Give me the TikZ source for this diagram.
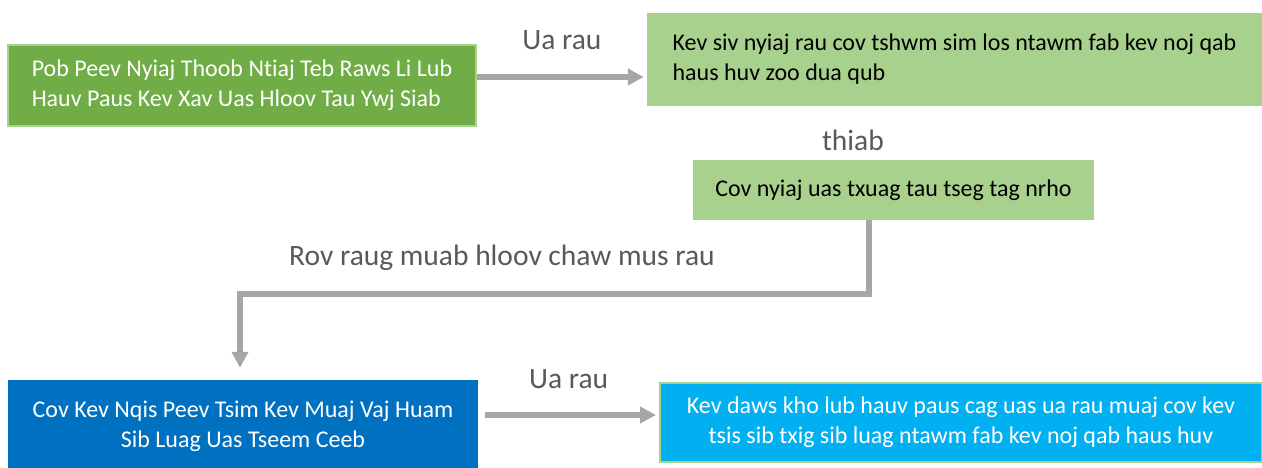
\documentclass[tikz,border=0pt]{standalone}
\usepackage{fontspec}
\setmainfont{Carlito}[RawFeature={-liga;-clig;-dlig;-calt}]
\usepackage{xcolor}
\usepackage{tikz}
\usetikzlibrary{arrows.meta,positioning}
\definecolor{boxdark}{HTML}{70AD47}
\definecolor{boxlight}{HTML}{A9D18E}
\definecolor{boxblue}{HTML}{0070C0}
\definecolor{boxcyan}{HTML}{00B0F0}
\definecolor{flowgray}{HTML}{A6A6A6}
\definecolor{lblgray}{HTML}{595959}

\begin{document}
\begin{tikzpicture}[x=1pt, y=-1pt,
  box/.style={rectangle, fill=#1, draw=none, inner sep=0pt, align=center,
              font=\fontsize{24}{30}\selectfont},
  flow/.style={-{Triangle[length=16pt,width=16pt]}, line width=5.5pt, draw=flowgray},
  lbl/.style={font=\fontsize{29.5}{35}\selectfont, text=lblgray},
]
\useasboundingbox (0,0) rectangle (1262,467);

\node[box=boxdark, draw=boxlight, line width=2pt, text=white, align=left,
      minimum width=468pt, minimum height=81pt] (inv) at (242,85)
  {Pob Peev Nyiaj Thoob Ntiaj Teb Raws Li Lub\\Hauv Paus Kev Xav Uas Hloov Tau Ywj Siab};
\node[box=boxlight, align=left, minimum width=615pt, minimum height=93pt] (use) at (954.5,59.5)
  {Kev siv nyiaj rau cov tshwm sim los ntawm fab kev noj qab\\haus huv zoo dua qub};
\node[box=boxlight, minimum width=401pt, minimum height=60pt] (save) at (893.5,190)
  {Cov nyiaj uas txuag tau tseg tag nrho};
\node[box=boxblue, text=white, minimum width=470pt, minimum height=92pt] (build) at (243,426)
  {Cov Kev Nqis Peev Tsim Kev Muaj Vaj Huam\\Sib Luag Uas Tseem Ceeb};
\node[box=boxcyan, draw=boxlight, line width=2pt, text=white,
      minimum width=602pt, minimum height=79pt] (fix) at (961,422.5)
  {Kev daws kho lub hauv paus cag uas ua rau muaj cov kev\\tsis sib txig sib luag ntawm fab kev noj qab haus huv};

\node[lbl] (andlbl) at (853,140) {thiab};
\node[lbl] (again) at (502,258) {Rov raug muab hloov chaw mus rau};

\draw[flow, shorten >=3pt] ([yshift=8pt]inv.east) -- ([yshift=8pt]inv.east -| use.west)
  node[lbl, midway, above=21pt] {Ua rau};
\draw[flow, shorten <=7pt, shorten >=3pt] ([yshift=11pt]build.east) -- ([yshift=11pt]build.east -| fix.west)
  node[lbl, midway, above=20pt] {Ua rau};

\coordinate (turnR) at (869,294);
\coordinate (turnL) at (240,294);
\draw[flow] (save.south -| turnR) -- (turnR) -- (turnL) -- ([yshift=12pt]build.north -| turnL);

\end{tikzpicture}
\end{document}
